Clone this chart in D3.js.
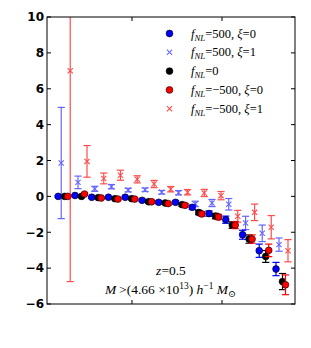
<!DOCTYPE html>
<html lang="en">
<head>
<meta charset="UTF-8">
<title>Bias ratio vs k</title>
<script src="https://d3js.org/d3.v7.min.js"></script>
<style>
    body { margin: 0; background: #fff; }
    svg { display: block; }
    .ytick { font-family: "DejaVu Sans", sans-serif; font-weight: bold; font-size: 12px; }
</style>
</head>
<body>
<svg id="chart"></svg>
<script>
// bin centres (log-spaced) and the five measured series
const kBins = [0.0179, 0.0275, 0.0422, 0.0647, 0.0993, 0.153, 0.234, 0.360, 0.552, 0.847, 1.30, 2.00, 3.06, 4.70];

const pos0Vals = [0.0, 0.05, -0.05, -0.05, -0.05, -0.22, -0.33, -0.33, -0.61, -0.96, -1.3, -2.14, -3.03, -4.05];
const pos0Errs = [0.05, 0.05, 0.05, 0.05, 0.06, 0.07, 0.08, 0.1, 0.12, 0.15, 0.2, 0.25, 0.37, 0.37];

const pos1Vals = [1.86, 0.78, 0.42, 0.54, 0.35, 0.37, 0.23, 0.2, -0.42, -0.37, -0.44, -1.48, -2.06, -2.69];
const pos1Errs = [3.1, 0.35, 0.14, 0.12, 0.1, 0.1, 0.1, 0.12, 0.15, 0.2, 0.32, 0.37, 0.46, 0.37];

const zeroVals = [0.0, 0.0, -0.07, -0.13, -0.13, -0.3, -0.37, -0.46, -0.9, -1.1, -1.6, -2.38, -3.35, -4.75];
const zeroErrs = [0.05, 0.05, 0.05, 0.05, 0.06, 0.07, 0.08, 0.1, 0.12, 0.15, 0.18, 0.23, 0.33, 0.45];

const neg0Vals = [0.0, 0.13, -0.09, -0.15, -0.15, -0.3, -0.4, -0.5, -0.98, -1.15, -1.6, -2.38, -3.01, -4.93];
const neg0Errs = [0.05, 0.05, 0.05, 0.05, 0.06, 0.07, 0.08, 0.1, 0.12, 0.15, 0.2, 0.23, 0.35, 0.55];

const neg1Vals = [7.0, 1.95, 1.0, 1.18, 0.95, 0.69, 0.4, 0.23, 0.19, 0.04, -1.11, -0.89, -1.72, -3.03];
const neg1Errs = [11.75, 0.88, 0.3, 0.28, 0.2, 0.2, 0.15, 0.15, 0.2, 0.23, 0.33, 0.46, 0.65, 0.62];

const yTicks = [-6, -4, -2, 0, 2, 4, 6, 8, 10];
const xTicks = [0.1, 1];

// legend labels as [text, italic, sub/sup] pieces
const legendLabels = [
    [["f", 1], ["NL", 1, "sub"], ["=500, "], ["ξ", 1], ["=0"]],
    [["f", 1], ["NL", 1, "sub"], ["=500, "], ["ξ", 1], ["=1"]],
    [["f", 1], ["NL", 1, "sub"], ["=0"]],
    [["f", 1], ["NL", 1, "sub"], ["=−500, "], ["ξ", 1], ["=0"]],
    [["f", 1], ["NL", 1, "sub"], ["=−500, "], ["ξ", 1], ["=1"]]
];
const noteLine1 = [["z", 1], ["=0.5"]];
const noteLine2 = [["M", 1], ["\u2009>(4.66 ×10"], ["13", 0, "sup"], [") "], ["h", 1], ["−1", 0, "sup"], [" "], ["M", 1], ["⊙", 0, "sub"]];

const series = [
    { vals: pos0Vals, errs: pos0Errs, color: "#0000ff", marker: "o", dx: -6.5, alpha: 1 },
    { vals: pos1Vals, errs: pos1Errs, color: "#0000ff", marker: "x", dx: -3.5, alpha: 0.6 },
    { vals: zeroVals, errs: zeroErrs, color: "#000000", marker: "o", dx: 0, alpha: 1 },
    { vals: neg0Vals, errs: neg0Errs, color: "#ff0000", marker: "o", dx: 3, alpha: 1 },
    { vals: neg1Vals, errs: neg1Errs, color: "#ff0000", marker: "x", dx: 5.5, alpha: 0.7 }
];

const W = 311, H = 348;
const plot = { left: 47, right: 295, top: 17, bottom: 304 };
const serif = "'Liberation Serif', 'DejaVu Serif', serif";

const svg = d3.select("#chart").attr("width", W).attr("height", H);

const x = d3.scaleLog().domain([Math.pow(10, -1.944), Math.pow(10, 0.811)]).range([plot.left, plot.right]);
const y = d3.scaleLinear().domain([-6, 10]).range([plot.bottom, plot.top]);

svg.append("defs").append("clipPath").attr("id", "clip")
    .append("rect")
    .attr("x", plot.left).attr("y", plot.top)
    .attr("width", plot.right - plot.left).attr("height", plot.bottom - plot.top);

const g = svg.append("g").attr("clip-path", "url(#clip)");

function mathText(sel, pieces, size) {
    sel.attr("font-family", serif).attr("font-size", size);
    let shift = 0;
    pieces.forEach(p => {
        let target = 0;
        if (p[2] === "sub") target = size * 0.25;
        else if (p[2] === "sup") target = -size * 0.4;
        const t = sel.append("tspan").text(p[0])
            .attr("font-family", serif)
            .attr("font-size", p[2] ? size * 0.7 : size)
            .attr("dy", target - shift);
        shift = target;
        if (p[1]) t.attr("font-style", "italic");
    });
}

function drawMarker(sel, s, cx, cy) {
    if (s.marker === "o") {
        sel.append("circle").attr("cx", cx).attr("cy", cy).attr("r", 3.4)
            .attr("fill", s.color).attr("stroke", "#000").attr("stroke-width", 0.6);
    } else {
        const r = 2.6;
        sel.append("path")
            .attr("d", `M${cx - r},${cy - r}L${cx + r},${cy + r}M${cx - r},${cy + r}L${cx + r},${cy - r}`)
            .attr("stroke", s.color).attr("stroke-width", 1.1).attr("fill", "none");
    }
}

series.forEach(s => {
    const sg = g.append("g").attr("opacity", s.alpha);
    kBins.forEach((k, i) => {
        const cx = x(k) + s.dx;
        const v = s.vals[i], e = s.errs[i];
        const y1 = y(v + e), y2 = y(v - e);
        sg.append("line").attr("x1", cx).attr("x2", cx).attr("y1", y1).attr("y2", y2)
            .attr("stroke", s.color).attr("stroke-width", 1.2);
        [y1, y2].forEach(yy => sg.append("line")
            .attr("x1", cx - 3.6).attr("x2", cx + 3.6).attr("y1", yy).attr("y2", yy)
            .attr("stroke", s.color).attr("stroke-width", 1.2));
        drawMarker(sg, s, cx, y(v));
    });
});

// frame
svg.append("rect")
    .attr("x", plot.left).attr("y", plot.top)
    .attr("width", plot.right - plot.left).attr("height", plot.bottom - plot.top)
    .attr("fill", "none").attr("stroke", "#000").attr("stroke-width", 1);

// inward ticks
const tl = 4;
yTicks.forEach(t => {
    svg.append("line").attr("x1", plot.left).attr("x2", plot.left + tl).attr("y1", y(t)).attr("y2", y(t)).attr("stroke", "#000");
    svg.append("line").attr("x1", plot.right).attr("x2", plot.right - tl).attr("y1", y(t)).attr("y2", y(t)).attr("stroke", "#000");
    svg.append("text").attr("class", "ytick")
        .attr("x", plot.left - 3).attr("y", y(t)).attr("dy", "0.36em")
        .attr("text-anchor", "end")
        .text(t < 0 ? "−" + Math.abs(t) : t);
});
xTicks.forEach(t => {
    svg.append("line").attr("x1", x(t)).attr("x2", x(t)).attr("y1", plot.top).attr("y2", plot.top + tl).attr("stroke", "#000");
    svg.append("line").attr("x1", x(t)).attr("x2", x(t)).attr("y1", plot.bottom).attr("y2", plot.bottom - tl).attr("stroke", "#000");
});

// legend
const legend = svg.append("g");
legendLabels.forEach((lab, i) => {
    const ly = 33.5 + i * 18.8;
    const s = series[i];
    const mg = legend.append("g").attr("opacity", s.alpha);
    drawMarker(mg, s, 169.5, ly);
    const t = legend.append("text").attr("x", 191).attr("y", ly + 4);
    mathText(t, lab, 12.5);
});

// annotation
const n1 = svg.append("text").attr("x", 171).attr("y", 275).attr("text-anchor", "middle");
mathText(n1, noteLine1, 13.5);
const n2 = svg.append("text").attr("x", 170.5).attr("y", 294).attr("text-anchor", "middle");
mathText(n2, noteLine2, 13.5);
</script>
</body>
</html>
